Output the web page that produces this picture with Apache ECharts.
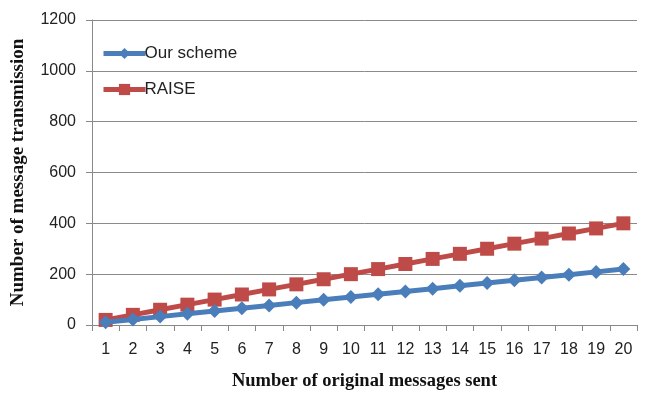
<!DOCTYPE html>
<html><head><meta charset="utf-8">
<script src="https://cdn.jsdelivr.net/npm/echarts@6/dist/echarts.min.js"></script>
<style>html,body{margin:0;padding:0;background:#fff}#c{width:647px;height:393px}</style>
</head><body><div id="c"></div>
<script>
const categories = ['1','2','3','4','5','6','7','8','9','10','11','12','13','14','15','16','17','18','19','20'];
const ourScheme = [11,22,33,44,55,66,77,88,99,110,121,132,143,154,165,176,187,198,209,220];
const raise = [20,40,60,80,100,120,140,160,180,200,220,240,260,280,300,320,340,360,380,400];
const seriesNames = ['Our scheme','RAISE'];

const chart = echarts.init(document.getElementById('c'));
const serifBold = {fontFamily:'Liberation Serif', fontWeight:'bold', color:'#111'};
chart.setOption({
  animation:false,
  backgroundColor:'#fff',
  grid:{left:92,right:10,top:20,bottom:68, containLabel:false, outerBoundsMode:'none'},
  legend:{
    left:96, top:40, orient:'vertical', itemGap:19,
    itemWidth:42, itemHeight:14,
    lineStyle:{width:5},
    textStyle:{fontFamily:'Liberation Sans', fontSize:17, color:'#222', padding:[0,0,0,-6]},
    data:seriesNames
  },
  xAxis:{
    type:'category', data:categories, boundaryGap:true,
    name:'Number of original messages sent', nameLocation:'middle', nameGap:47,
    nameTextStyle:Object.assign({fontSize:18.5}, serifBold),
    axisLine:{lineStyle:{color:'#888',width:1}},
    axisTick:{show:true, length:6, lineStyle:{color:'#888'}},
    axisLabel:{fontFamily:'Liberation Sans', fontSize:16, color:'#222', margin:17}
  },
  yAxis:{
    type:'value', min:0, max:1200, interval:200,
    name:'Number of message transmission', nameLocation:'middle', nameGap:64,
    nameTextStyle:Object.assign({fontSize:19}, serifBold),
    axisLine:{show:true, lineStyle:{color:'#888',width:1}},
    axisTick:{show:true, length:6, lineStyle:{color:'#888'}},
    axisLabel:{fontFamily:'Liberation Sans', fontSize:16, color:'#222', margin:16,
      formatter: v => String(v)},
    splitLine:{lineStyle:{color:'#8a8a8a',width:1}}
  },
  series:[
    {name:seriesNames[0], type:'line', data:ourScheme, symbol:'diamond', symbolSize:14,
     lineStyle:{color:'#4a7ebb',width:5}, itemStyle:{color:'#4a7ebb'}, z:3},
    {name:seriesNames[1], type:'line', data:raise, symbol:'rect', symbolSize:14,
     lineStyle:{color:'#be4b48',width:5}, itemStyle:{color:'#be4b48'}, z:2}
  ]
});
</script></body></html>
